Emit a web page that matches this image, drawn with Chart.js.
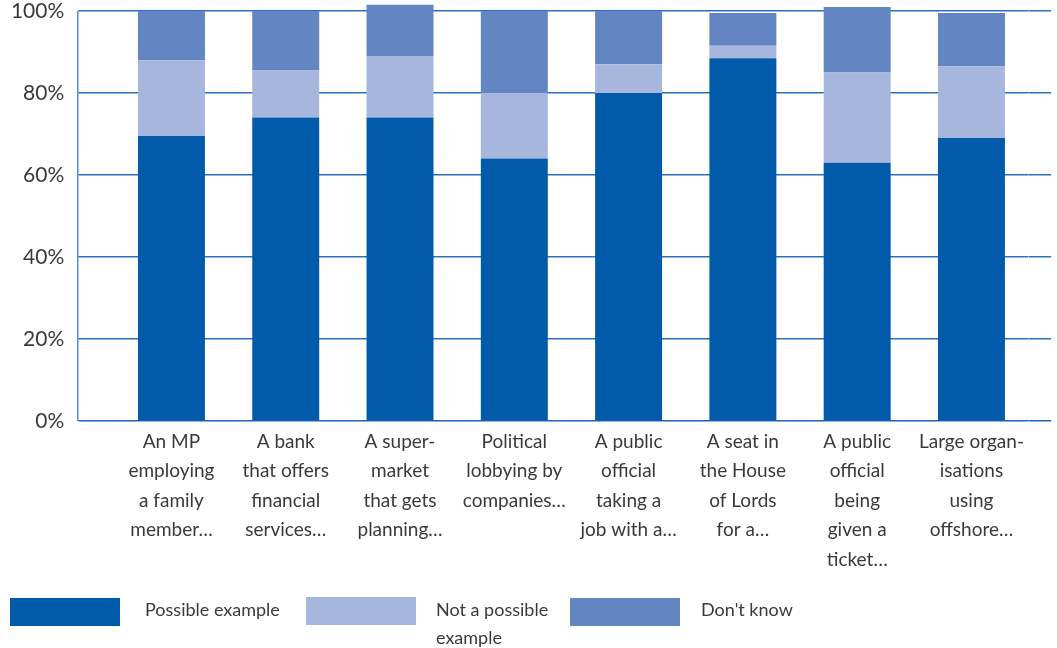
<!DOCTYPE html>
<html>
<head>
<meta charset="utf-8">
<script src="https://cdn.jsdelivr.net/npm/chart.js@4.4.1/dist/chart.umd.min.js"></script>
<style>
  html, body { margin: 0; padding: 0; background: #fff; }
  #wrap { position: relative; width: 1057px; height: 648px; }
  #legend { position: absolute; left: 0; top: 0; width: 1057px; height: 648px; pointer-events: none; }
  .swatch { position: absolute; width: 110px; height: 28px; }
  .label { position: absolute; font-family: Lato, sans-serif; font-size: 18px; line-height: 28px; color: #3a3a3a; }
</style>
</head>
<body>
<div id="wrap">
  <canvas id="chart" width="1057" height="648"></canvas>
  <div id="legend"></div>
</div>
<script>
'use strict';

// categories (x tick labels, pre-wrapped as in the source)
const categories = [
  ['An MP', 'employing', 'a family', 'member…'],
  ['A bank', 'that offers', 'financial', 'services…'],
  ['A super-', 'market', 'that gets', 'planning…'],
  ['Political', 'lobbying by', 'companies…'],
  ['A public', 'official', 'taking a', 'job with a…'],
  ['A seat in', 'the House', 'of Lords', 'for a…'],
  ['A public', 'official', 'being', 'given a', 'ticket…'],
  ['Large organ-', 'isations', 'using', 'offshore…'],
];

// series values, percent
const possibleExample = [69.5, 74, 74, 64, 80, 88.5, 63, 69];
const notPossible     = [18.5, 11.5, 15, 16, 7, 3, 22, 17.5];
const dontKnow        = [12, 14.5, 12.5, 20, 13, 8, 16, 13];

const yTicks = [0, 20, 40, 60, 80, 100];

const COLORS = {
  possible: '#025baa',
  notPossible: '#a7b6dd',
  dontKnow: '#6385c2',
  grid: '#2a70bd',
  zero: '#1c64b6',
  axis: '#4d90d6',
  text: '#3a3a3a',
};

const FONT = 'Lato, sans-serif';

// vertical axis line sits at the far end of the y tick marks
const leftAxisLine = {
  id: 'leftAxisLine',
  beforeDatasetsDraw(chart) {
    const y = chart.scales.y;
    const x = y.right - y.options.grid.tickLength - 0.5;
    const ctx = chart.ctx;
    ctx.save();
    ctx.strokeStyle = COLORS.axis;
    ctx.lineWidth = 1.5;
    ctx.beginPath();
    ctx.moveTo(x, y.getPixelForValue(100));
    ctx.lineTo(x, y.getPixelForValue(0));
    ctx.stroke();
    ctx.restore();
  },
};

const gridColor = c => (c.tick && c.tick.value === 0 ? COLORS.zero : COLORS.grid);

// fixed axis sizes so the plot lines up with the source
const fixWidth = w => s => { s.width = w; s.paddingTop = 0; s.paddingBottom = 0; };

const chart = new Chart(document.getElementById('chart'), {
  type: 'bar',
  data: {
    labels: categories,
    datasets: [
      { label: 'Possible example', data: possibleExample, backgroundColor: COLORS.possible },
      { label: 'Not a possible example', data: notPossible, backgroundColor: COLORS.notPossible },
      { label: "Don't know", data: dontKnow, backgroundColor: COLORS.dontKnow },
    ],
  },
  options: {
    responsive: false,
    animation: false,
    datasets: {
      bar: { categoryPercentage: 0.586, barPercentage: 1, clip: false },
    },
    layout: { padding: { top: 11, right: 5.9, left: 0, bottom: 0 } },
    plugins: {
      legend: { display: false },
      tooltip: { enabled: false },
    },
    scales: {
      x: {
        stacked: true,
        grid: { display: false },
        border: { display: false },
        ticks: {
          color: COLORS.text,
          font: { family: FONT, size: 19, lineHeight: 1.55 },
          padding: -2,
          maxRotation: 0,
          autoSkip: false,
        },
        afterFit: s => { s.height = 648 - 421; s.paddingLeft = 0; s.paddingRight = 0; },
      },
      y: {
        stacked: true,
        min: 0,
        max: 100,
        afterBuildTicks: s => { s.ticks = yTicks.map(v => ({ value: v })); },
        ticks: {
          color: COLORS.text,
          font: { family: FONT, size: 21 },
          padding: 14,
          callback: v => v + '%',
        },
        grid: { color: gridColor, lineWidth: 1.5, tickLength: 36 },
        border: { display: false },
        afterFit: fixWidth(114.3),
      },
      y2: {
        position: 'right',
        min: 0,
        max: 100,
        afterBuildTicks: s => { s.ticks = yTicks.map(v => ({ value: v })); },
        ticks: { display: false },
        grid: { color: gridColor, lineWidth: 1.5, tickLength: 22.5, drawOnChartArea: false },
        border: { display: false },
        afterFit: fixWidth(22.5),
      },
    },
  },
  plugins: [leftAxisLine],
});

// html legend, built from the datasets
const legendPos = [
  { box: [10, 598], text: [145, 595], width: 160 },
  { box: [306, 597], text: [436, 595], width: 125 },
  { box: [570, 598], text: [701, 595], width: 160 },
];
const legendEl = document.getElementById('legend');
chart.data.datasets.forEach((ds, i) => {
  const p = legendPos[i];
  const sw = document.createElement('div');
  sw.className = 'swatch';
  sw.style.left = p.box[0] + 'px';
  sw.style.top = p.box[1] + 'px';
  sw.style.background = ds.backgroundColor;
  legendEl.appendChild(sw);
  const tx = document.createElement('div');
  tx.className = 'label';
  tx.style.left = p.text[0] + 'px';
  tx.style.top = p.text[1] + 'px';
  tx.style.width = p.width + 'px';
  tx.textContent = ds.label;
  legendEl.appendChild(tx);
});
</script>
</body>
</html>
